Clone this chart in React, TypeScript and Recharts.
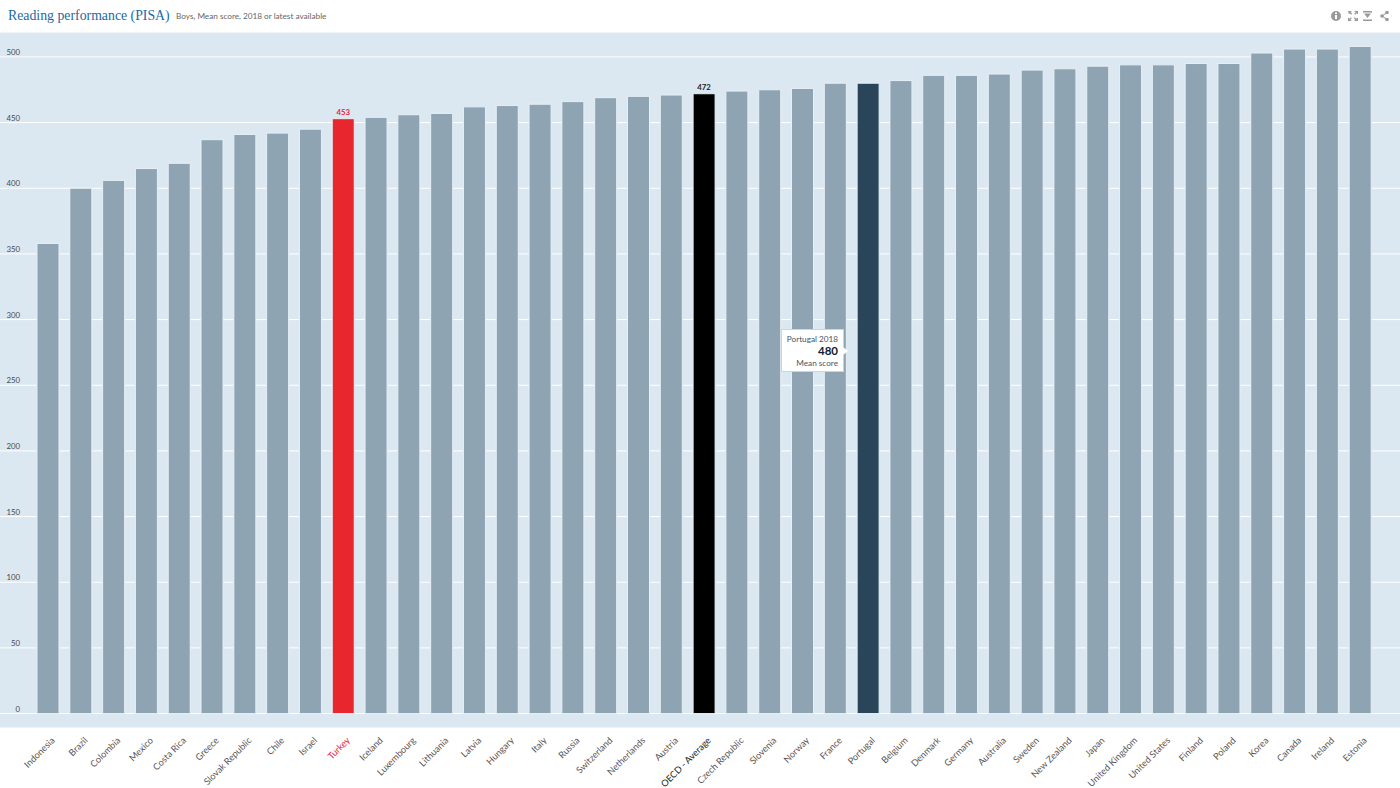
import { Bar, BarChart, CartesianGrid, Cell, LabelList, Tooltip, XAxis, YAxis } from "recharts";

const countries = [
  "Indonesia", "Brazil", "Colombia", "Mexico", "Costa Rica", "Greece", "Slovak Republic", "Chile", "Israel", "Turkey",
  "Iceland", "Luxembourg", "Lithuania", "Latvia", "Hungary", "Italy", "Russia", "Switzerland", "Netherlands", "Austria",
  "OECD - Average", "Czech Republic", "Slovenia", "Norway", "France", "Portugal", "Belgium", "Denmark", "Germany", "Australia",
  "Sweden", "New Zealand", "Japan", "United Kingdom", "United States", "Finland", "Poland", "Korea", "Canada", "Ireland", "Estonia"
];
const scores = [
  358, 400, 406, 415, 419, 437, 441, 442, 445, 453,
  454, 456, 457, 462, 463, 464, 466, 469, 470, 471,
  472, 474, 475, 476, 480, 480, 482, 486, 486, 487,
  490, 491, 493, 494, 494, 495, 495, 503, 506, 506, 508
];
const yTicks = [0, 50, 100, 150, 200, 250, 300, 350, 400, 450, 500];
const labelledCountries = ["Turkey", "OECD - Average"];

const barColors: Record<string, string> = {
  Turkey: "#e8262d",
  "OECD - Average": "#000000",
  Portugal: "#2a4559"
};
const labelColors: Record<string, string> = {
  Turkey: "#e8262d",
  "OECD - Average": "#222222"
};

const data = countries.map((name, i) => ({
  name,
  score: scores[i],
  label: labelledCountries.includes(name) ? String(scores[i]) : ""
}));

const FONT = "Lato, 'Open Sans', sans-serif";

function CountryTick({ x, y, payload }: any) {
  return (
    <text
      x={x + 7}
      y={y + 5}
      transform={`rotate(-45 ${x + 7} ${y + 5})`}
      textAnchor="end"
      fontFamily={FONT}
      fontSize={9.2}
      fill={labelColors[payload.value] ?? "#5c5552"}
    >
      {payload.value}
    </text>
  );
}

function ScoreTick({ y, payload }: any) {
  return (
    <text x={20} y={y - 2} textAnchor="end" fontFamily={FONT} fontSize={7.8} fill="#4a4a4a">
      {payload.value}
    </text>
  );
}

function ValueLabel({ x, y, width, value, index }: any) {
  if (!value) return null;
  return (
    <text
      x={x + width / 2}
      y={y - 4}
      textAnchor="middle"
      fontFamily={FONT}
      fontSize={7.8}
      fontWeight={700}
      fill={labelColors[countries[index]]}
    >
      {value}
    </text>
  );
}

function ScoreTooltip() {
  return (
    <div
      style={{
        position: "relative",
        width: 63,
        height: 43,
        boxSizing: "border-box",
        background: "#fff",
        border: "1px solid #c6d6e2",
        fontFamily: FONT,
        fontSize: 8.2,
        color: "#4a5560",
        textAlign: "right",
        whiteSpace: "nowrap",
        padding: "3px 5px 0 0",
        lineHeight: "12px"
      }}
    >
      <div>Portugal 2018</div>
      <div style={{ fontSize: 11.5, fontWeight: 700, color: "#10202c" }}>480</div>
      <div>Mean score</div>
      <div
        style={{
          position: "absolute",
          left: 61,
          top: 17,
          width: 0,
          height: 0,
          borderTop: "4px solid transparent",
          borderBottom: "4px solid transparent",
          borderLeft: "5px solid #fff"
        }}
      />
    </div>
  );
}

function HeaderIcons() {
  return (
    <svg width={60} height={14} viewBox="0 0 60 14" style={{ position: "absolute", left: 1330, top: 9 }} fill="#9a9a9a">
      <circle cx={6} cy={7} r={5} />
      <rect x={5} y={6} width={2} height={4} fill="#fff" />
      <rect x={5} y={3.5} width={2} height={1.5} fill="#fff" />
      <path d="M18 2h4l-1.3 1.3 1.5 1.5-1 1-1.5-1.5L19 5.5zM28 2v3.500l-1.300-1.200-1.500 1.500-1-1 1.500-1.500L24 2zM18 12V8.500l1.300 1.200 1.500-1.500 1 1-1.500 1.500L22 12zM28 12h-4l1.300-1.300-1.500-1.500 1-1 1.500 1.500L28 8.500z" />
      <path d="M33 2h9v1.500h-9zM34 4.500h7L37.500 9zM33 10.500h9V12h-9z" />
      <g transform="translate(4 0)">
        <circle cx={48} cy={7} r={1.800} />
        <circle cx={53} cy={3.500} r={1.800} />
        <circle cx={53} cy={10.500} r={1.800} />
        <path d="M48 6.500l5-3.500.500.800-5 3.500zM48 7.500l5 3.500.500-.800-5-3.500z" />
      </g>
    </svg>
  );
}

export default function App() {
  return (
    <div style={{ position: "absolute", left: 0, top: 0, width: 1400, height: 788, background: "#fff", overflow: "hidden" }}>
      <div style={{ position: "absolute", left: 8, top: 8, fontFamily: "'Liberation Serif', serif", fontSize: 13.8, color: "#1a6aa5", whiteSpace: "nowrap" }}>
        Reading performance (PISA)
      </div>
      <div style={{ position: "absolute", left: 176, top: 11, fontFamily: FONT, fontSize: 8.2, color: "#666", whiteSpace: "nowrap" }}>
        Boys, Mean score, 2018 or latest available
      </div>
      <HeaderIcons />
      <BarChart
        width={1400}
        height={788}
        data={data}
        margin={{ top: 32, right: 0, bottom: 0, left: 0 }}
        barCategoryGap={0}
        style={{ position: "absolute", left: 0, top: 0 }}
      >
        <CartesianGrid fill="#dce8f1" stroke="#ffffff" strokeWidth={1} vertical={false} />
        <XAxis
          dataKey="name"
          interval={0}
          height={60}
          padding={{ left: 32, right: 23 }}
          tickLine={false}
          axisLine={false}
          tick={<CountryTick />}
        />
        <YAxis
          type="number"
          domain={[-11, 519]}
          ticks={yTicks}
          allowDataOverflow
          mirror
          width={40}
          tickLine={false}
          axisLine={false}
          tick={<ScoreTick />}
        />
        <Tooltip
          active
          defaultIndex={25}
          cursor={false}
          position={{ x: 781, y: 329 }}
          isAnimationActive={false}
          content={<ScoreTooltip />}
        />
        <Bar dataKey="score" barSize={22} stroke="#e6eff5" strokeWidth={1} isAnimationActive={false}>
          {data.map((d) => (
            <Cell key={d.name} fill={barColors[d.name] ?? "#8fa4b2"} />
          ))}
          <LabelList dataKey="label" content={<ValueLabel />} />
        </Bar>
      </BarChart>
    </div>
  );
}
